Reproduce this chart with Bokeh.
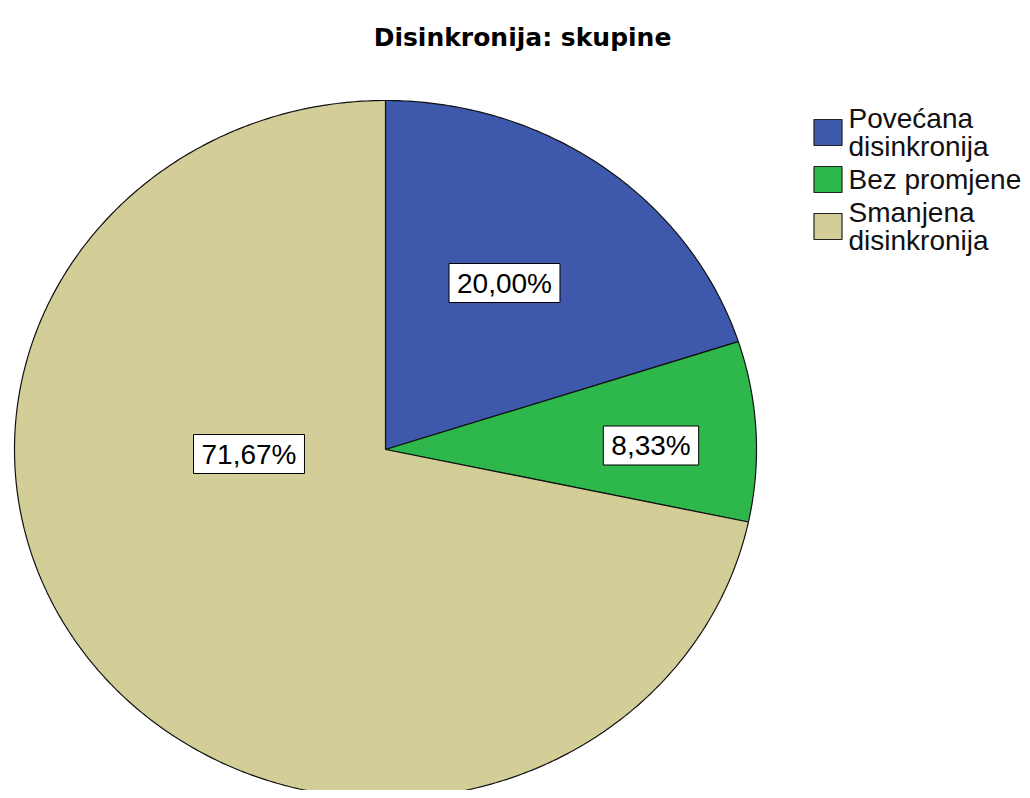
import numpy as np
from bokeh.plotting import figure
from bokeh.models import Range1d, ColumnDataSource
from bokeh.embed import file_html
from bokeh.resources import INLINE
from bokeh.core.properties import value

# ---------------- data ----------------
TITLE = "Disinkronija: skupine"
CATEGORIES = ["Povećana\ndisinkronija", "Bez promjene", "Smanjena\ndisinkronija"]
PERCENTS = [20.00, 8.33, 71.67]
COLORS = ["#3E58AC", "#2EB84B", "#D3CE97"]

# ---------------- layout ----------------
W, H = 1022, 790
CX, CY = 385, 449          # pie centre (page pixels)
RX, RY = 371, 349          # pie radii
LABEL_XY = [(504, 282.5), (650.5, 445), (248.5, 453.5)]
LEG_X, LEG_Y0, LEG_STEP = 827.5, 132, 47

p = figure(width=W, height=H, x_range=Range1d(0, W), y_range=Range1d(H, 0),
           output_backend="svg", toolbar_location=None, min_border=0,
           x_axis_type=None, y_axis_type=None)
p.grid.visible = False
p.outline_line_color = None
p.background_fill_color = "white"
p.border_fill_color = "white"

# pie slices (clockwise from 12 o'clock)
xs, ys = [], []
cum = np.cumsum([0] + PERCENTS)
for i in range(len(PERCENTS)):
    a0 = cum[i] / 100 * 2 * np.pi
    a1 = cum[i + 1] / 100 * 2 * np.pi
    t = np.linspace(a0, a1, max(8, int(PERCENTS[i] * 6)))
    xs.append([CX] + list(CX + RX * np.sin(t)))
    ys.append([CY] + list(CY - RY * np.cos(t)))
p.patches(xs=xs, ys=ys, fill_color=COLORS, line_color="#111111", line_width=1.2)

# percentage labels
labels = [f"{v:.2f}%".replace(".", ",") for v in PERCENTS]
lab_src = ColumnDataSource(dict(x=[q[0] for q in LABEL_XY], y=[q[1] for q in LABEL_XY], text=labels))
p.text(x="x", y="y", text="text", source=lab_src, text_align="center", text_baseline="middle",
       text_font=value("Liberation Sans"), text_font_size="28px", text_color="black",
       background_fill_color="white", border_line_color="black", border_line_width=1,
       padding=dict(left=8, right=8, top=4, bottom=4))

# legend
leg_y = [LEG_Y0 + i * LEG_STEP for i in range(len(CATEGORIES))]
p.rect(x=[LEG_X] * len(CATEGORIES), y=leg_y, width=28, height=26,
       width_units="screen", height_units="screen",
       fill_color=COLORS, line_color="#222222", line_width=1.2)
p.text(x=[848] * len(CATEGORIES), y=leg_y, text=CATEGORIES, text_align="left", text_baseline="middle",
       text_font=value("Liberation Sans"), text_font_size="28px", text_color="#111111",
       text_line_height=0.9)

# title
p.text(x=[522], y=[37], text=[TITLE], text_align="center", text_baseline="alphabetic",
       text_font=value("DejaVu Sans"), text_font_style="bold", text_font_size="25px",
       text_color="black")

open("out.html", "w").write(file_html(p, INLINE))
